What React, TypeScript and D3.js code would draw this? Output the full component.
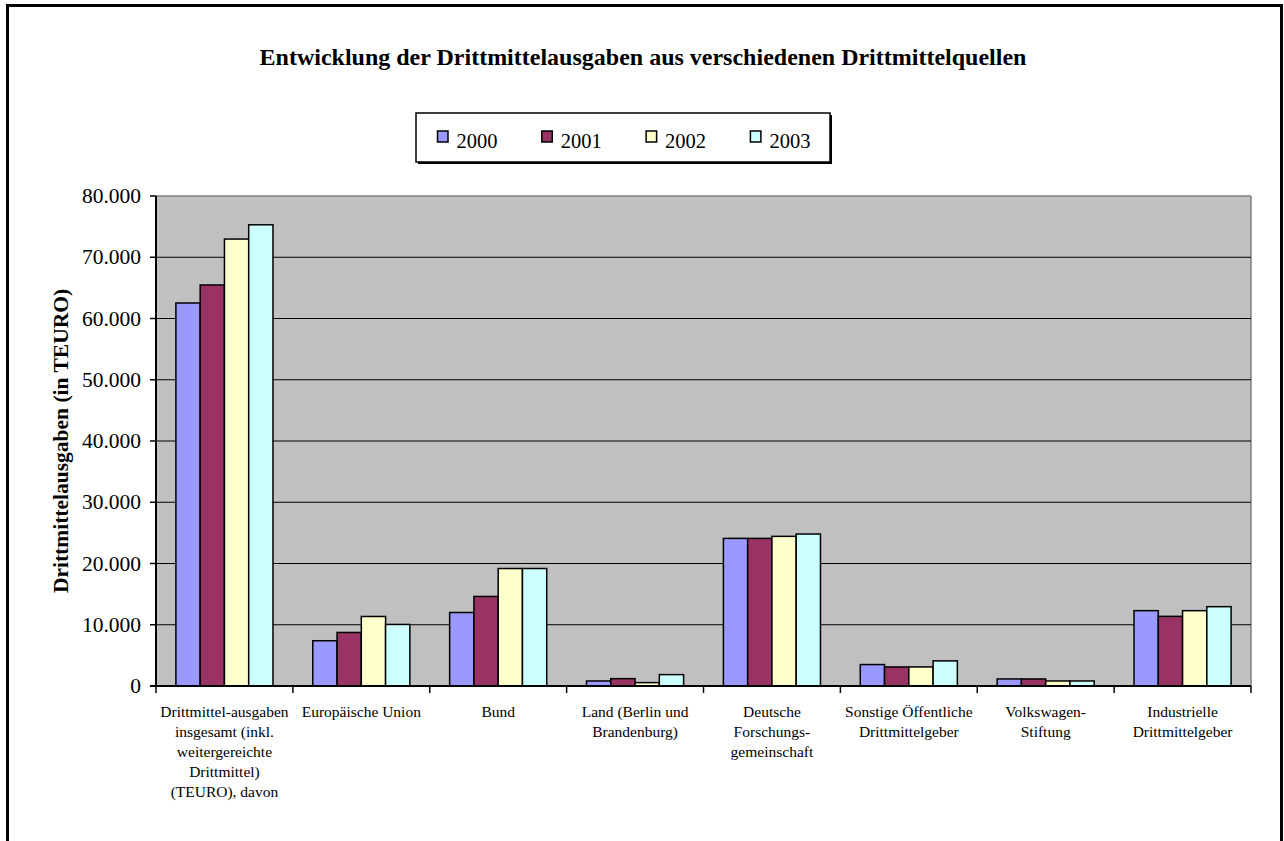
import React from "react";
import * as d3 from "d3";

const categories: string[][] = [
  ["Drittmittel-ausgaben", "insgesamt (inkl.", "weitergereichte", "Drittmittel)", "(TEURO), davon"],
  ["Europäische Union"],
  ["Bund"],
  ["Land (Berlin und", "Brandenburg)"],
  ["Deutsche", "Forschungs-", "gemeinschaft"],
  ["Sonstige Öffentliche", "Drittmittelgeber"],
  ["Volkswagen-", "Stiftung"],
  ["Industrielle", "Drittmittelgeber"],
];

const years = ["2000", "2001", "2002", "2003"];

const values2000 = [62530, 7390, 12000, 820, 24100, 3500, 1150, 12300];
const values2001 = [65470, 8740, 14620, 1200, 24100, 3110, 1150, 11370];
const values2002 = [72970, 11350, 19180, 550, 24430, 3110, 820, 12300];
const values2003 = [75300, 10050, 19180, 1860, 24810, 4100, 820, 12950];

const seriesValues = [values2000, values2001, values2002, values2003];
const colors = ["#9999FF", "#993366", "#FFFFCC", "#CCFFFF"];

const yTicks = [0, 10000, 20000, 30000, 40000, 50000, 60000, 70000, 80000];

const title = "Entwicklung der Drittmittelausgaben aus verschiedenen Drittmittelquellen";
const yTitle = "Drittmittelausgaben (in TEURO)";

const W = 1284;
const H = 841;
const FONT = "'Liberation Serif', 'Times New Roman', serif";

export default function App() {
  const left = 156, right = 1251, top = 196, bottom = 686;
  const catKeys = categories.map((_, i) => String(i));
  const x0 = d3.scaleBand<string>().domain(catKeys).range([left, right]).padding(0);
  const x1 = d3.scaleBand<string>().domain(years).range([0, x0.bandwidth()]).paddingInner(0).paddingOuter(0.82);
  const y = d3.scaleLinear().domain([0, 80000]).range([bottom, top]);
  const fmt = d3.formatLocale({ decimal: ",", thousands: ".", grouping: [3], currency: ["", "€"] }).format(",d");

  const legendX = 416, legendY = 113, legendW = 414, legendH = 49;
  const legendStart = 437, legendStep = 104.3;

  return (
    <svg width={W} height={H} style={{ position: "absolute", left: 0, top: 0, background: "#fff" }} fontFamily={FONT}>
      <rect x={0} y={0} width={W} height={H} fill="#fff" />
      {/* outer frame */}
      <rect x={7.5} y={5.5} width={1274} height={900} fill="none" stroke="#000" strokeWidth={3} />

      {/* title */}
      <text x={643} y={65} textAnchor="middle" fontSize={24} fontWeight="bold" fill="#000">{title}</text>

      {/* legend */}
      <rect x={legendX + 2} y={legendY + 2} width={legendW} height={legendH} fill="#000" />
      <rect x={legendX} y={legendY} width={legendW} height={legendH} fill="#fff" stroke="#000" strokeWidth={1.5} />
      {years.map((yr, i) => {
        const lx = legendStart + i * legendStep;
        return (
          <g key={yr}>
            <rect x={lx + 0.5} y={131} width={10.5} height={11} fill={colors[i]} stroke="#000" strokeWidth={1.5} />
            <text x={lx + 19.5} y={148} fontSize={20.5} fill="#000">{yr}</text>
          </g>
        );
      })}

      {/* plot area */}
      <rect x={left} y={top} width={right - left} height={bottom - top} fill="#C0C0C0" />
      <line x1={left} x2={right} y1={top} y2={top} stroke="#808080" strokeWidth={1.5} />
      <line x1={right} x2={right} y1={top} y2={bottom} stroke="#808080" strokeWidth={1.5} />
      {yTicks.filter((t) => t > 0 && t < 80000).map((t) => (
        <line key={"g" + t} x1={left} x2={right} y1={y(t)} y2={y(t)} stroke="#000" strokeWidth={1.2} />
      ))}

      {/* bars */}
      {catKeys.map((ck, ci) => (
        <g key={"c" + ck} transform={`translate(${x0(ck)},0)`}>
          {years.map((yr, si) => {
            const v = seriesValues[si][ci];
            return (
              <rect
                key={yr}
                x={x1(yr)}
                y={y(v)}
                width={x1.bandwidth()}
                height={bottom - y(v)}
                fill={colors[si]}
                stroke="#000"
                strokeWidth={1.5}
              />
            );
          })}
        </g>
      ))}

      {/* axes */}
      <line x1={left} x2={left} y1={top} y2={bottom} stroke="#000" strokeWidth={2} />
      <line x1={left - 6} x2={right} y1={bottom} y2={bottom} stroke="#000" strokeWidth={2} />
      {yTicks.map((t) => (
        <g key={"t" + t}>
          <line x1={left - 6} x2={left} y1={y(t)} y2={y(t)} stroke="#000" strokeWidth={1.5} />
          <text x={141} y={y(t) + 7} textAnchor="end" fontSize={21.5} fill="#000">{fmt(t)}</text>
        </g>
      ))}
      {[...catKeys.map((ck) => x0(ck) as number), right].map((xx, i) => (
        <line key={"xt" + i} x1={xx} x2={xx} y1={bottom} y2={bottom + 7} stroke="#000" strokeWidth={1.5} />
      ))}

      {/* category labels */}
      {categories.map((lines, ci) => {
        const cx = (x0(String(ci)) as number) + x0.bandwidth() / 2;
        return (
          <text key={"l" + ci} x={cx} textAnchor="middle" fontSize={15.5} fill="#000">
            {lines.map((ln, li) => (
              <tspan key={li} x={cx} y={717 + li * 20}>{ln}</tspan>
            ))}
          </text>
        );
      })}

      {/* y axis title */}
      <text
        transform={`translate(68, ${(top + bottom) / 2}) rotate(-90)`}
        textAnchor="middle"
        fontSize={21.5}
        fontWeight="bold"
        fill="#000"
      >
        {yTitle}
      </text>
    </svg>
  );
}
